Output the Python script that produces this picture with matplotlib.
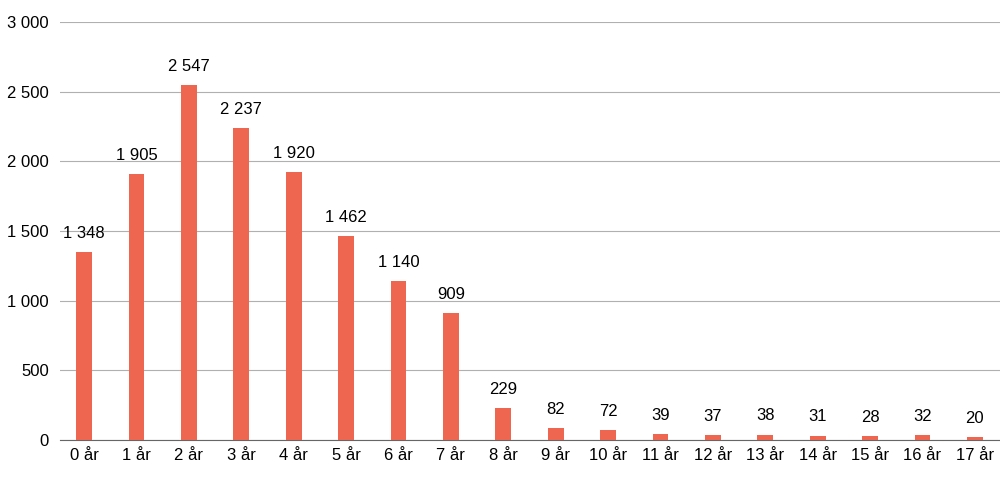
import matplotlib
matplotlib.use("Agg")
import matplotlib.pyplot as plt

categories = [f"{i} år" for i in range(18)]
values = [1348, 1905, 2547, 2237, 1920, 1462, 1140, 909, 229, 82, 72, 39, 37, 38, 31, 28, 32, 20]
yticks = [0, 500, 1000, 1500, 2000, 2500, 3000]

def fmt(v):
    return f"{v:,}".replace(",", " ")

plt.rcParams['font.family'] = ['Liberation Sans', 'DejaVu Sans']
fig = plt.figure(figsize=(10, 4.86), dpi=100)
ax = fig.add_axes([0.06, 0.095, 0.94, 0.86])
x = range(len(values))
ax.bar(x, values, width=0.3, color='#EE6650', zorder=3)
for xi, v in zip(x, values):
    ax.text(xi, v + 80, fmt(v), ha='center', va='bottom', fontsize=12)
ax.set_ylim(0, 3000)
ax.set_xlim(-0.46, len(values) - 1 + 0.48)
ax.set_yticks(yticks)
ax.set_yticklabels([fmt(t) for t in yticks], fontsize=12)
ax.set_xticks(list(x))
ax.set_xticklabels(categories, fontsize=12)
ax.grid(axis='y', color='#b0b0b0', linewidth=0.8, zorder=0)
for s in ['top', 'right', 'left']:
    ax.spines[s].set_visible(False)
ax.spines['bottom'].set_color('#666666')
ax.tick_params(axis='both', length=0)
ax.tick_params(axis='x', pad=6)
ax.tick_params(axis='y', pad=8)
fig.savefig("out.png", dpi=100)
